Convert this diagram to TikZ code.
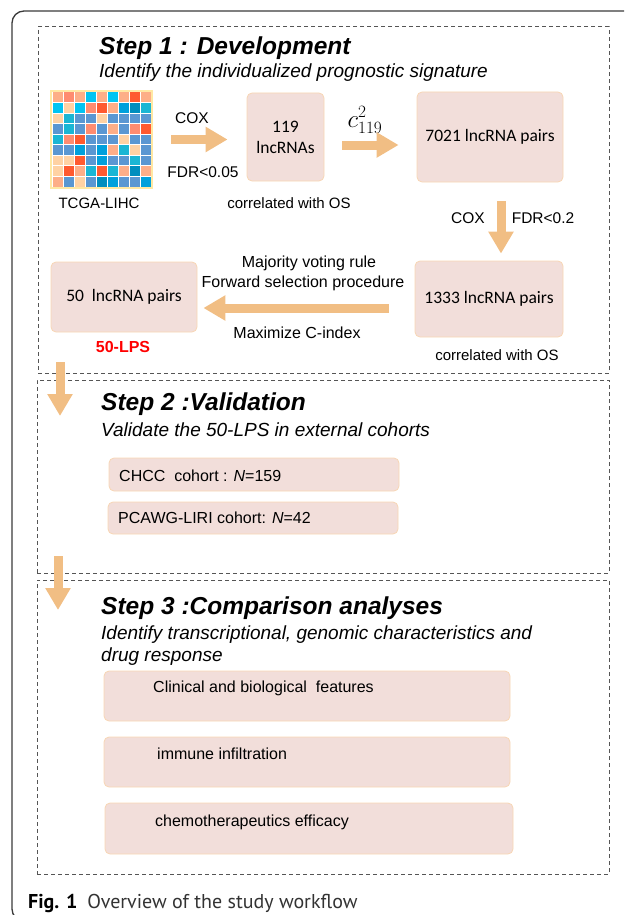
\documentclass[tikz,border=0pt]{standalone}
\usepackage{fontspec}
\setmainfont{Liberation Sans}
\newfontfamily\calfont{Carlito}
\newfontfamily\capfont{PT Sans}
\usetikzlibrary{arrows.meta}
\definecolor{boxfill}{HTML}{F2DEDA}
\definecolor{boxline}{HTML}{F8D6B4}
\definecolor{arr}{HTML}{F1BE84}
\definecolor{dashc}{HTML}{555555}
\definecolor{frame}{HTML}{3A3A3A}
\definecolor{hmframe}{HTML}{FFE8A3}
\definecolor{hS}{HTML}{FDAE88}
\definecolor{hC}{HTML}{FF8C70}
\definecolor{hR}{HTML}{FF5A30}
\definecolor{hP}{HTML}{FFD2A4}
\definecolor{hY}{HTML}{00C4F2}
\definecolor{hD}{HTML}{00A0DC}
\definecolor{hK}{HTML}{008EBE}
\definecolor{hT}{HTML}{1AB6D4}
\definecolor{hB}{HTML}{5A97D2}
\definecolor{lpsred}{HTML}{FF0000}
\begin{document}
\begin{tikzpicture}[x=1pt,y=-1pt,
  lab/.style={font=\fontsize{15.5}{18}\selectfont, inner sep=0pt},
  titletext/.style={font=\fontsize{24.5}{29}\selectfont\bfseries\itshape, anchor=west, inner sep=0pt},
  subtext/.style={font=\fontsize{19}{22}\selectfont\itshape, anchor=west, inner sep=0pt, align=left},
  boxtext/.style={font=\fontsize{16}{19}\selectfont, anchor=west, inner sep=0pt},
  pbox/.style={fill=boxfill, draw=boxline, line width=0.8pt, rounded corners=5pt, inner sep=0pt},
  cbox/.style={pbox, font=\calfont\fontsize{17.5}{20}\selectfont, align=center},
  stepbox/.style={draw=dashc, line width=1pt, dash pattern=on 4pt off 3pt, inner sep=0pt},
  bigarrow/.style={draw=arr, line width=9pt, -{Triangle[length=22pt,width=24pt]}}
]
\useasboundingbox (0,0) rectangle (624,915);
\clip (0,0) rectangle (624,915);
% outer frame
\draw[frame, line width=1.3pt, rounded corners=12pt] (12,11) rectangle (660,921);

% step boxes
\node[stepbox, minimum width=571pt, minimum height=346pt] (s1) at (323.5,200) {};
\node[stepbox, minimum width=572pt, minimum height=193pt] (s2) at (323,476.5) {};
\node[stepbox, minimum width=572pt, minimum height=294pt] (s3) at (323,727) {};

% Step 1
\node[titletext] (t1) at (99,48) {Step 1 : Development};
\node[subtext] (st1) at (99,73) {Identify the individualized prognostic signature};

% heatmap
\node[draw=hmframe, line width=2pt, minimum width=101pt, minimum height=97pt, inner sep=0pt] (hm) at (101.5,139.5) {};
\foreach \row [count=\j from 0] in {
  {S,C,S,Y,S,Y,S,R,S},
  {Y,P,Y,C,R,S,D,K,T},
  {P,T,B,B,P,B,B,B,B},
  {B,T,B,C,B,S,B,C,R},
  {T,C,R,B,B,B,P,B,B},
  {B,B,D,B,D,S,T,P,B},
  {P,P,R,B,D,B,B,T,B},
  {P,R,S,T,R,T,S,K,S},
  {S,B,P,B,K,D,B,B,D}} {
  \foreach \c [count=\i from 0] in \row {
    \fill[h\c] ({52+11*\i+0.5},{92+10.56*\j+0.5}) rectangle ++(10,9.56);
  }
}
\node[lab, font=\fontsize{15}{18}\selectfont] (tcga) at (99,203) {TCGA-LIHC};

\node[cbox, minimum width=77pt, minimum height=88pt] (b119) at (285.5,137) {119\\[1pt]lncRNAs};
\node[lab] (cox1) at (192,118) {COX};
\node[lab] (fdr1) at (203,172) {FDR<0.05};
\node[lab, font=\fontsize{15}{18}\selectfont] (cor1) at (289,203) {correlated with OS};

\node[cbox, minimum width=146pt, minimum height=90pt] (b7021) at (490,137) {7021 lncRNA pairs};
\node[inner sep=0pt, font=\fontsize{23}{26}\selectfont] (comb) at (365,120) {$c_{119}^{2}$};

\node[cbox, minimum width=148pt, minimum height=76pt] (b1333) at (489,299) {1333 lncRNA pairs};
\node[lab] (cox2) at (468,218) {COX};
\node[lab] (fdr2) at (543,218) {FDR<0.2};
\node[lab, font=\fontsize{15}{18}\selectfont] (cor2) at (497,355) {correlated with OS};

\node[cbox, minimum width=146pt, minimum height=70pt] (b50) at (124,297) {50\ \ lncRNA pairs};
\node[lab, font=\fontsize{16}{19}\selectfont\bfseries, text=lpsred] (lps) at (123,347) {50-LPS};
\node[lab, font=\fontsize{16}{19}\selectfont] (mv) at (309,263) {Majority voting rule};
\node[lab, font=\fontsize{16}{19}\selectfont] (fs) at (303,283) {Forward selection procedure};
\node[lab, font=\fontsize{16}{19}\selectfont] (mc) at (297,333) {Maximize C-index};

% arrows step 1
\draw[bigarrow, shorten <=18pt, shorten >=19pt] (hm.east) -- (hm.east -| b119.west);
\draw[bigarrow, shorten <=18pt, shorten >=18pt] ([yshift=-8pt]b119.east) -- ([yshift=-8pt]b119.east -| b7021.west);
\draw[bigarrow, shorten <=19pt, shorten >=7pt] ([xshift=11pt]b7021.south) -- ([xshift=11pt]b7021.south |- b1333.north);
\draw[bigarrow, shorten <=26pt, shorten >=6pt] ([yshift=-9pt]b1333.west) -- ([yshift=-9pt]b1333.west -| b50.east);

% arrows between steps
\coordinate (a1s) at (60,362);
\coordinate (a1e) at (60,416);
\coordinate (a2s) at (58,556);
\coordinate (a2e) at (58,610);
\draw[bigarrow] (a1s) -- (a1e);
\draw[bigarrow] (a2s) -- (a2e);

% Step 2
\node[titletext] (t2) at (101,404) {Step 2 :Validation};
\node[subtext] (st2) at (101,430) {Validate the 50-LPS in external cohorts};
\node[pbox, minimum width=290pt, minimum height=33pt] (chcc) at (254,474.5) {};
\node[boxtext] (chcct) at (119,476) {CHCC\ \ cohort : \textit{N}=159};
\node[pbox, minimum width=290pt, minimum height=32pt] (pcawg) at (253,518) {};
\node[boxtext] (pcawgt) at (118,518) {PCAWG-LIRI cohort: \textit{N}=42};

% Step 3
\node[titletext] (t3) at (101,608) {Step 3 :Comparison analyses};
\node[subtext] (st3a) at (101,635) {Identify transcriptional, genomic characteristics and};
\node[subtext] (st3b) at (101,657) {drug response};
\node[pbox, minimum width=406pt, minimum height=50pt] (ca) at (307,696) {};
\node[boxtext] (cat) at (153,688) {Clinical and biological\ \ features};
\node[pbox, minimum width=406pt, minimum height=50pt] (cb) at (307,762) {};
\node[boxtext] (cbt) at (157,754) {immune infiltration};
\node[pbox, minimum width=408pt, minimum height=51pt] (cc) at (309,828.5) {};
\node[boxtext] (cct) at (155,822) {chemotherapeutics efficacy};

% caption
\node[anchor=west, inner sep=0pt, font=\capfont\fontsize{20}{24}\selectfont] (cap) at (28,903) {\textbf{Fig. 1}\hspace{10pt}{\color[HTML]{333333}Overview of the study workflow}};
\end{tikzpicture}
\end{document}
